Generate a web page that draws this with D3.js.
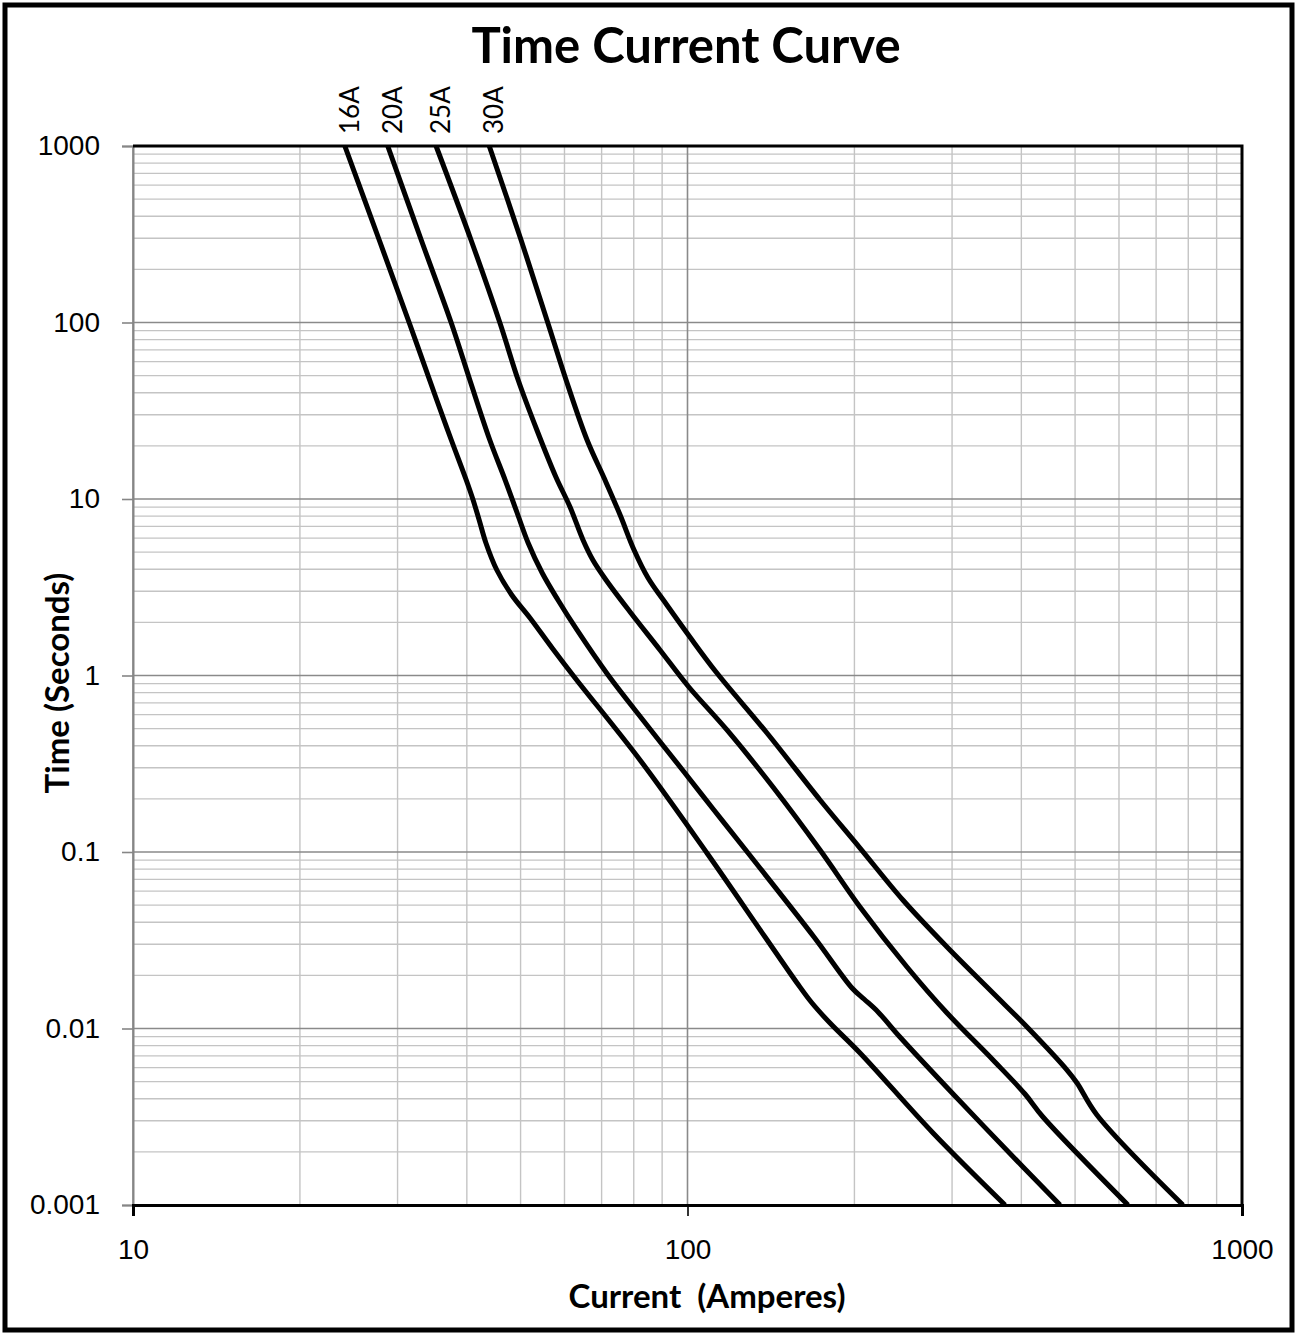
<!DOCTYPE html>
<html>
<head>
<meta charset="utf-8">
<script src="https://cdn.jsdelivr.net/npm/d3@7"></script>
<style>
  html, body { margin: 0; padding: 0; background: #fff; }
  svg { display: block; }
</style>
</head>
<body>
<svg width="1300" height="1338"></svg>
<script>
(function (d3) {
  'use strict';

  // datos (corriente en A, tiempo en s)
  const seriesNames = ['16A', '20A', '25A', '30A'];

  const current16A = [24.1, 27.8, 31.5, 35.3, 37.5, 39.9, 41.0, 42.1, 43.3, 45.3, 48.2, 52.0, 57.0, 62.7, 82.1, 108.4, 138.0, 157.6, 167.7, 180.7, 204.7, 277.2, 373.8];
  const time16A    = [1000, 293.4, 99.35, 36.38, 21.59, 12.81, 10.0, 7.604, 5.634, 3.960, 2.858, 2.117, 1.432, 0.968, 0.3321, 0.0987, 0.0330, 0.01811, 0.01394, 0.01074, 0.007265, 0.002558, 0.001];

  const current20A = [28.8, 33.1, 37.5, 40.5, 44.0, 46.9, 49.3, 51.6, 54.7, 58.4, 63.2, 71.9, 83.1, 98.6, 111.6, 128.6, 169.1, 198.0, 208.1, 220.6, 241.6, 303.7, 402.8, 469.8];
  const time20A    = [1000, 293.4, 99.35, 47.22, 21.59, 12.81, 8.330, 5.634, 3.808, 2.678, 1.811, 1.0065, 0.5597, 0.2840, 0.1729, 0.0987, 0.0330, 0.01696, 0.01469, 0.01241, 0.008951, 0.004145, 0.001641, 0.001];

  const current25A = [35.2, 40.7, 45.9, 49.5, 53.5, 57.9, 61.4, 64.8, 67.5, 71.3, 78.8, 89.2, 100.2, 117.8, 142.6, 173.4, 204.7, 248.8, 293.8, 355.6, 406.1, 437.6, 622.9];
  const time25A    = [1000, 293.4, 99.35, 47.22, 24.60, 13.32, 9.009, 5.858, 4.512, 3.476, 2.290, 1.395, 0.8720, 0.4913, 0.2335, 0.1026, 0.04881, 0.02231, 0.01224, 0.006632, 0.004255, 0.003152, 0.001];

  const current30A = [43.9, 50.1, 56.0, 60.4, 65.9, 71.0, 75.6, 80.1, 84.9, 91.8, 101.0, 112.6, 139.1, 173.4, 204.7, 244.6, 293.8, 355.6, 409.6, 483.6, 504.1, 547.6, 782.6];
  const time30A    = [1000, 293.4, 99.35, 47.22, 21.59, 12.81, 8.116, 5.141, 3.568, 2.508, 1.652, 1.0467, 0.4723, 0.1971, 0.1053, 0.05346, 0.02896, 0.01589, 0.01020, 0.005817, 0.004913, 0.003235, 0.001];

  const xTicks = [10, 100, 1000];
  const xTickLabels = ['10', '100', '1000'];
  const yTicks = [0.001, 0.01, 0.1, 1, 10, 100, 1000];
  const yTickLabels = ['0.001', '0.01', '0.1', '1', '10', '100', '1000'];

  const currents = [current16A, current20A, current25A, current30A];
  const times = [time16A, time20A, time25A, time30A];

  const svg = d3.select('svg');
  const ancho = +svg.attr('width');
  const alto = +svg.attr('height');

  const izq = 133, der = 1242, arriba = 146, abajo = 1205;

  const x = d3.scaleLog().domain([10, 1000]).range([izq, der]);
  const y = d3.scaleLog().domain([0.001, 1000]).range([abajo, arriba]);

  // marco exterior
  svg.append('rect')
    .attr('x', 5).attr('y', 5)
    .attr('width', ancho - 13).attr('height', alto - 13)
    .attr('fill', '#fff')
    .attr('stroke', '#000')
    .attr('stroke-width', 5);

  // lineas de la grilla
  const menoresX = [];
  [10, 100].forEach(b => { for (let k = 2; k <= 9; k++) menoresX.push(b * k); });
  const menoresY = [];
  yTicks.slice(0, -1).forEach(b => { for (let k = 2; k <= 9; k++) menoresY.push(b * k); });

  const grilla = svg.append('g');
  grilla.selectAll('.gx').data(menoresX).enter().append('line')
    .attr('x1', d => x(d)).attr('x2', d => x(d))
    .attr('y1', arriba).attr('y2', abajo)
    .attr('stroke', '#c4c4c4').attr('stroke-width', 1.4);
  grilla.selectAll('.gy').data(menoresY).enter().append('line')
    .attr('x1', izq).attr('x2', der)
    .attr('y1', d => y(d)).attr('y2', d => y(d))
    .attr('stroke', '#c4c4c4').attr('stroke-width', 1.4);
  grilla.selectAll('.mx').data(xTicks).enter().append('line')
    .attr('x1', d => x(d)).attr('x2', d => x(d))
    .attr('y1', arriba).attr('y2', abajo)
    .attr('stroke', '#8a8a8a').attr('stroke-width', 1.6);
  grilla.selectAll('.my').data(yTicks).enter().append('line')
    .attr('x1', izq).attr('x2', der)
    .attr('y1', d => y(d)).attr('y2', d => y(d))
    .attr('stroke', '#8a8a8a').attr('stroke-width', 1.6);

  // ejes
  const ejeY = svg.append('g')
    .attr('transform', `translate(${izq},0)`)
    .call(d3.axisLeft(y).tickValues(yTicks).tickFormat((d, i) => yTickLabels[i]).tickSize(11).tickPadding(22));
  ejeY.select('.domain').attr('stroke', '#868686').attr('stroke-width', 2);
  ejeY.selectAll('.tick line').attr('stroke', '#868686').attr('stroke-width', 1.6);
  ejeY.selectAll('.tick text')
    .attr('font-family', '"Liberation Sans", Arial, sans-serif')
    .attr('font-size', 28).attr('fill', '#000');

  const ejeX = svg.append('g')
    .attr('transform', `translate(0,${abajo})`)
    .call(d3.axisBottom(x).tickValues(xTicks).tickFormat((d, i) => xTickLabels[i]).tickSize(11).tickPadding(23));
  ejeX.select('.domain').attr('stroke', '#000').attr('stroke-width', 3);
  ejeX.selectAll('.tick line').attr('stroke', '#000').attr('stroke-width', 1.6);
  ejeX.selectAll('.tick text')
    .attr('font-family', '"Liberation Sans", Arial, sans-serif')
    .attr('font-size', 28).attr('fill', '#000');

  // borde superior y derecho del area de trazado
  svg.append('path')
    .attr('d', `M${izq},${arriba}H${der}V${abajo}`)
    .attr('fill', 'none').attr('stroke', '#000').attr('stroke-width', 3);

  // curvas
  const linea = d3.line()
    .x(d => x(d[0]))
    .y(d => y(d[1]))
    .curve(d3.curveCatmullRom.alpha(0.5));

  seriesNames.forEach((nombre, i) => {
    const puntos = currents[i].map((c, j) => [c, times[i][j]]);
    svg.append('path')
      .datum(puntos)
      .attr('d', linea)
      .attr('fill', 'none')
      .attr('stroke', '#000')
      .attr('stroke-width', 5)
      .attr('stroke-linejoin', 'round');

    svg.append('text')
      .attr('transform', `translate(${x(currents[i][0]) + 14},${arriba - 12}) rotate(-90)`)
      .attr('font-family', 'Lato, sans-serif')
      .attr('font-size', 26)
      .text(nombre);
  });

  // titulos
  svg.append('text')
    .attr('x', 686).attr('y', 63)
    .attr('text-anchor', 'middle')
    .attr('font-family', 'Lato, sans-serif')
    .attr('font-weight', 'bold')
    .attr('font-size', 49)
    .text('Time Current Curve');

  svg.append('text')
    .attr('x', 707).attr('y', 1308)
    .attr('text-anchor', 'middle')
    .attr('font-family', 'Lato, sans-serif')
    .attr('font-weight', 'bold')
    .attr('font-size', 33)
    .attr('xml:space', 'preserve')
    .style('white-space', 'pre')
    .text('Current  (Amperes)');

  svg.append('text')
    .attr('transform', 'translate(69,683) rotate(-90)')
    .attr('text-anchor', 'middle')
    .attr('font-family', 'Lato, sans-serif')
    .attr('font-weight', 'bold')
    .attr('font-size', 33)
    .text('Time (Seconds)');

}(d3));
</script>
</body>
</html>
